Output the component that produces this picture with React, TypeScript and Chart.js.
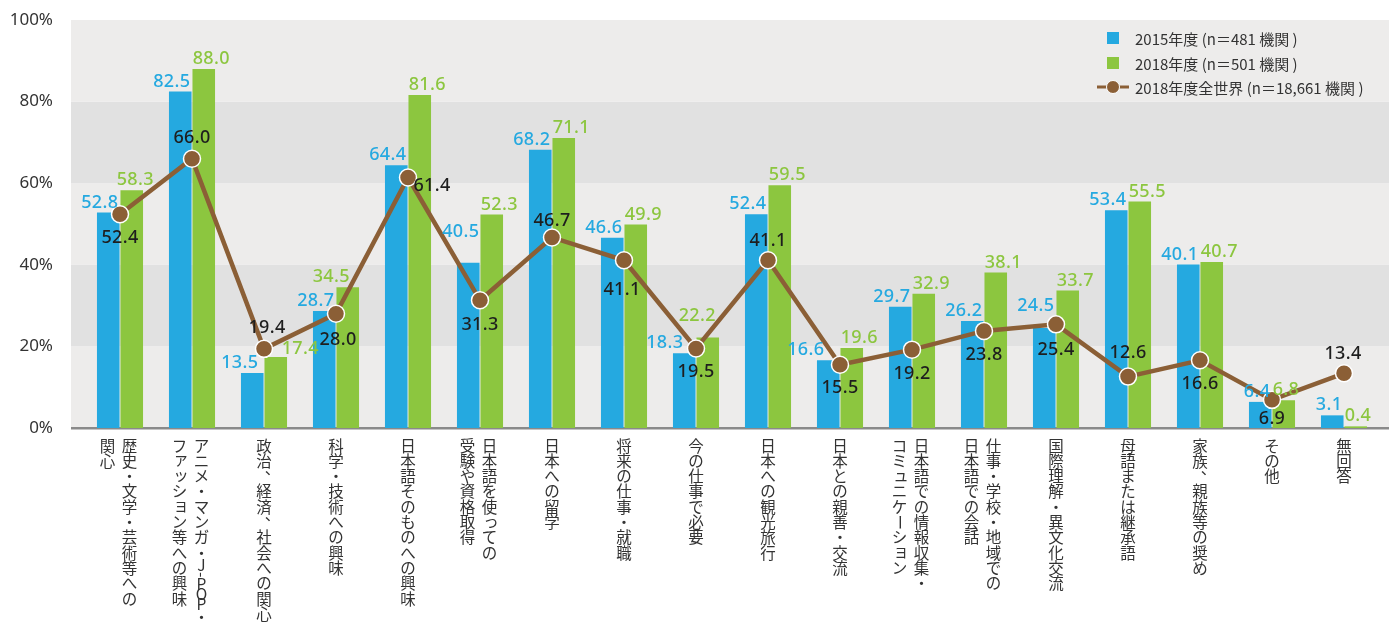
import React, { useEffect, useRef } from "react";
import { Chart, registerables } from "chart.js";

Chart.register(...registerables);

// ---------- DATA ----------
// Each category label: columns of vertical text, first column is rightmost
const categories: string[][] = [
  ["歴史・文学・芸術等への", "関心"],
  ["アニメ・マンガ・J-POP・", "ファッション等への興味"],
  ["政治、経済、社会への関心"],
  ["科学・技術への興味"],
  ["日本語そのものへの興味"],
  ["日本語を使っての", "受験や資格取得"],
  ["日本への留学"],
  ["将来の仕事・就職"],
  ["今の仕事で必要"],
  ["日本への観光旅行"],
  ["日本との親善・交流"],
  ["日本語での情報収集・", "コミュニケーション"],
  ["仕事・学校・地域での", "日本語での会話"],
  ["国際理解・異文化交流"],
  ["母語または継承語"],
  ["家族、親族等の奨め"],
  ["その他"],
  ["無回答"],
];

const values2015 = [52.8, 82.5, 13.5, 28.7, 64.4, 40.5, 68.2, 46.6, 18.3, 52.4, 16.6, 29.7, 26.2, 24.5, 53.4, 40.1, 6.4, 3.1];
const values2018 = [58.3, 88.0, 17.4, 34.5, 81.6, 52.3, 71.1, 49.9, 22.2, 59.5, 19.6, 32.9, 38.1, 33.7, 55.5, 40.7, 6.8, 0.4];
const valuesWorld = [52.4, 66.0, 19.4, 28.0, 61.4, 31.3, 46.7, 41.1, 19.5, 41.1, 15.5, 19.2, 23.8, 25.4, 12.6, 16.6, 6.9, 13.4];

const yTicks = [0, 20, 40, 60, 80, 100];
const seriesNames = [
  "2015年度 (n＝481 機関 )",
  "2018年度 (n＝501 機関 )",
  "2018年度全世界 (n＝18,661 機関 )",
];

// ---------- STYLE ----------
const BLUE = "#25a9e0";
const GREEN = "#8cc63f";
const BROWN = "#8b5f36";
const BAND_LIGHT = "#edeceb";
const BAND_DARK = "#e1e1e1";
const TEXT = "#333333";

// label nudges (dx, dy) from default placement
const nudge2015: Record<number, [number, number]> = {
  2: [-4, 0],
  5: [1, -21],
  8: [-11, 0],
  10: [-14, 0],
  13: [0, -12],
};
const nudge2018: Record<number, [number, number]> = {
  0: [-4, 0],
  2: [17, 2],
  3: [-24, 0],
  8: [-18, -12],
};
const worldLabelDx = [0, 0, 3, 2, 24, 0, 0, -2, 0, 0, 0, 0, 0, 0, 0, 0, 0, -1];
const worldLabelDy = [24, -21, -21, 26, 8, 25, -17, 30, 23, -19, 23, 24, 24, 26, -24, 24, 19, -19];

const NUM_FONT = "500 18px 'Noto Sans', 'DejaVu Sans', sans-serif";
const CJK_FONT = "'Noto Sans CJK JP', 'Noto Sans', sans-serif";

function drawVerticalText(ctx: CanvasRenderingContext2D, text: string, cx: number, top: number, pitch: number) {
  let y = top;
  const smallKana = "ッュョャァィゥェォっゅょゃぁ";
  for (const ch of Array.from(text)) {
    const isLatin = /[A-Za-z0-9]/.test(ch);
    const adv = isLatin ? pitch * 0.66 : ch === "-" ? pitch * 0.55 : pitch;
    const cy = y + adv / 2;
    ctx.save();
    if (ch === "ー" || ch === "-") {
      ctx.translate(cx, cy);
      ctx.rotate(Math.PI / 2);
      ctx.fillText(ch, 0, 0);
    } else if (ch === "、" || ch === "。") {
      ctx.fillText(ch, cx + pitch * 0.55, cy - pitch * 0.55);
    } else if (smallKana.includes(ch)) {
      ctx.fillText(ch, cx + pitch * 0.1, cy - pitch * 0.1);
    } else {
      ctx.fillText(ch, cx, cy);
    }
    ctx.restore();
    y += adv;
  }
}

const customPlugin = {
  id: "customDecor",
  beforeDatasetsDraw(chart: any) {
    const { ctx, chartArea, scales } = chart;
    const y = scales.y;
    const x0 = chartArea.left - 13;
    const x1 = chartArea.right + 9;
    ctx.save();
    for (let k = 0; k < yTicks.length - 1; k++) {
      const top = y.getPixelForValue(yTicks[k + 1]);
      const bot = y.getPixelForValue(yTicks[k]);
      ctx.fillStyle = k % 2 === 0 ? BAND_LIGHT : BAND_DARK;
      ctx.fillRect(x0, top, x1 - x0, bot - top);
    }
    const yb = y.getPixelForValue(0);
    ctx.fillStyle = "#8a8a8a";
    ctx.fillRect(x0, yb - 1, x1 - x0, 2.5);
    ctx.restore();
  },
  afterDatasetsDraw(chart: any) {
    const { ctx, chartArea, scales } = chart;
    const metaB = chart.getDatasetMeta(0);
    const metaG = chart.getDatasetMeta(1);
    const metaW = chart.getDatasetMeta(2);
    ctx.save();
    ctx.font = NUM_FONT;
    (ctx as any).letterSpacing = "0.3px";
    ctx.textBaseline = "middle";
    metaB.data.forEach((el: any, i: number) => {
      const [dx, dy] = nudge2015[i] || [0, 0];
      ctx.fillStyle = BLUE;
      ctx.textAlign = "right";
      ctx.fillText(values2015[i].toFixed(1), el.x + 10 + dx, el.y - 10 + dy);
    });
    metaG.data.forEach((el: any, i: number) => {
      const [dx, dy] = nudge2018[i] || [0, 0];
      ctx.fillStyle = GREEN;
      ctx.textAlign = "left";
      ctx.fillText(values2018[i].toFixed(1), el.x - 11 + dx, el.y - 10 + dy);
    });
    metaW.data.forEach((el: any, i: number) => {
      ctx.fillStyle = "#1e1e1e";
      ctx.textAlign = "center";
      ctx.fillText(valuesWorld[i].toFixed(1), el.x + worldLabelDx[i], el.y + worldLabelDy[i]);
    });
    ctx.restore();

    // x category labels (vertical)
    ctx.save();
    ctx.font = `15.5px ${CJK_FONT}`;
    ctx.fillStyle = TEXT;
    ctx.textAlign = "center";
    ctx.textBaseline = "middle";
    const xs = scales.x;
    const top = chartArea.bottom + 10;
    categories.forEach((cols, i) => {
      const cx = xs.getPixelForValue(i);
      const colXs = cols.length === 1 ? [cx] : [cx + 9.5, cx - 12.5];
      cols.forEach((t, c) => drawVerticalText(ctx, t, colXs[c], top, 15.3));
    });
    ctx.restore();

    // legend
    ctx.save();
    const lx = chartArea.right - 283;
    const rows = [38, 63, 87];
    ctx.font = `15px ${CJK_FONT}`;
    ctx.textAlign = "left";
    ctx.textBaseline = "middle";
    ctx.fillStyle = BLUE;
    ctx.fillRect(lx + 10, rows[0] - 6, 12, 12);
    ctx.fillStyle = GREEN;
    ctx.fillRect(lx + 10, rows[1] - 6, 12, 12);
    ctx.strokeStyle = BROWN;
    ctx.lineWidth = 3;
    ctx.beginPath();
    ctx.moveTo(lx, rows[2]);
    ctx.lineTo(lx + 32, rows[2]);
    ctx.stroke();
    ctx.beginPath();
    ctx.arc(lx + 16, rows[2], 6.5, 0, Math.PI * 2);
    ctx.fillStyle = BROWN;
    ctx.fill();
    ctx.strokeStyle = "#fff";
    ctx.lineWidth = 1;
    ctx.stroke();
    ctx.fillStyle = TEXT;
    seriesNames.forEach((n, k) => ctx.fillText(n, lx + 38, rows[k] + 1));
    ctx.restore();
  },
};

export default function App() {
  const ref = useRef<HTMLCanvasElement | null>(null);
  useEffect(() => {
    document.body.style.margin = "0";
    if (!ref.current) return;
    const chart = new Chart(ref.current, {
      type: "bar",
      data: {
        labels: categories.map((c) => c.join("")),
        datasets: [
          {
            type: "bar",
            label: seriesNames[0],
            data: values2015,
            backgroundColor: BLUE,
            borderWidth: 0,
            barPercentage: 0.96,
            categoryPercentage: 0.653,
            order: 1,
          } as any,
          {
            type: "bar",
            label: seriesNames[1],
            data: values2018,
            backgroundColor: GREEN,
            borderWidth: 0,
            barPercentage: 0.96,
            categoryPercentage: 0.653,
            order: 1,
          } as any,
          {
            type: "line",
            label: seriesNames[2],
            data: valuesWorld,
            borderColor: BROWN,
            borderWidth: 4.5,
            pointRadius: 8.5,
            pointHoverRadius: 8.5,
            pointBackgroundColor: BROWN,
            pointBorderColor: "#ffffff",
            pointBorderWidth: 1.5,
            tension: 0,
            order: 0,
          } as any,
        ],
      },
      options: {
        responsive: false,
        animation: false,
        events: [],
        devicePixelRatio: 1,
        layout: { padding: { left: 0, right: 16, top: 20, bottom: 198 } },
        plugins: {
          legend: { display: false },
          tooltip: { enabled: false },
        },
        scales: {
          x: {
            display: false,
            offset: true,
          },
          y: {
            min: 0,
            max: 100,
            ticks: {
              stepSize: 20,
              callback: (v: any) => `${v}%`,
              font: { size: 17, family: "'Noto Sans', sans-serif" },
              color: TEXT,
              padding: 23,
            },
            grid: { display: false },
            border: { display: false },
            afterFit: (scale: any) => {
              scale.width = 84;
              scale.paddingTop = 0;
              scale.paddingBottom = 0;
            },
          },
        },
      },
      plugins: [customPlugin],
    });
    return () => chart.destroy();
  }, []);
  return (
    <div style={{ width: 1396, height: 626, position: "relative" }}>
      <canvas ref={ref} width={1396} height={626} style={{ display: "block" }} />
    </div>
  );
}
